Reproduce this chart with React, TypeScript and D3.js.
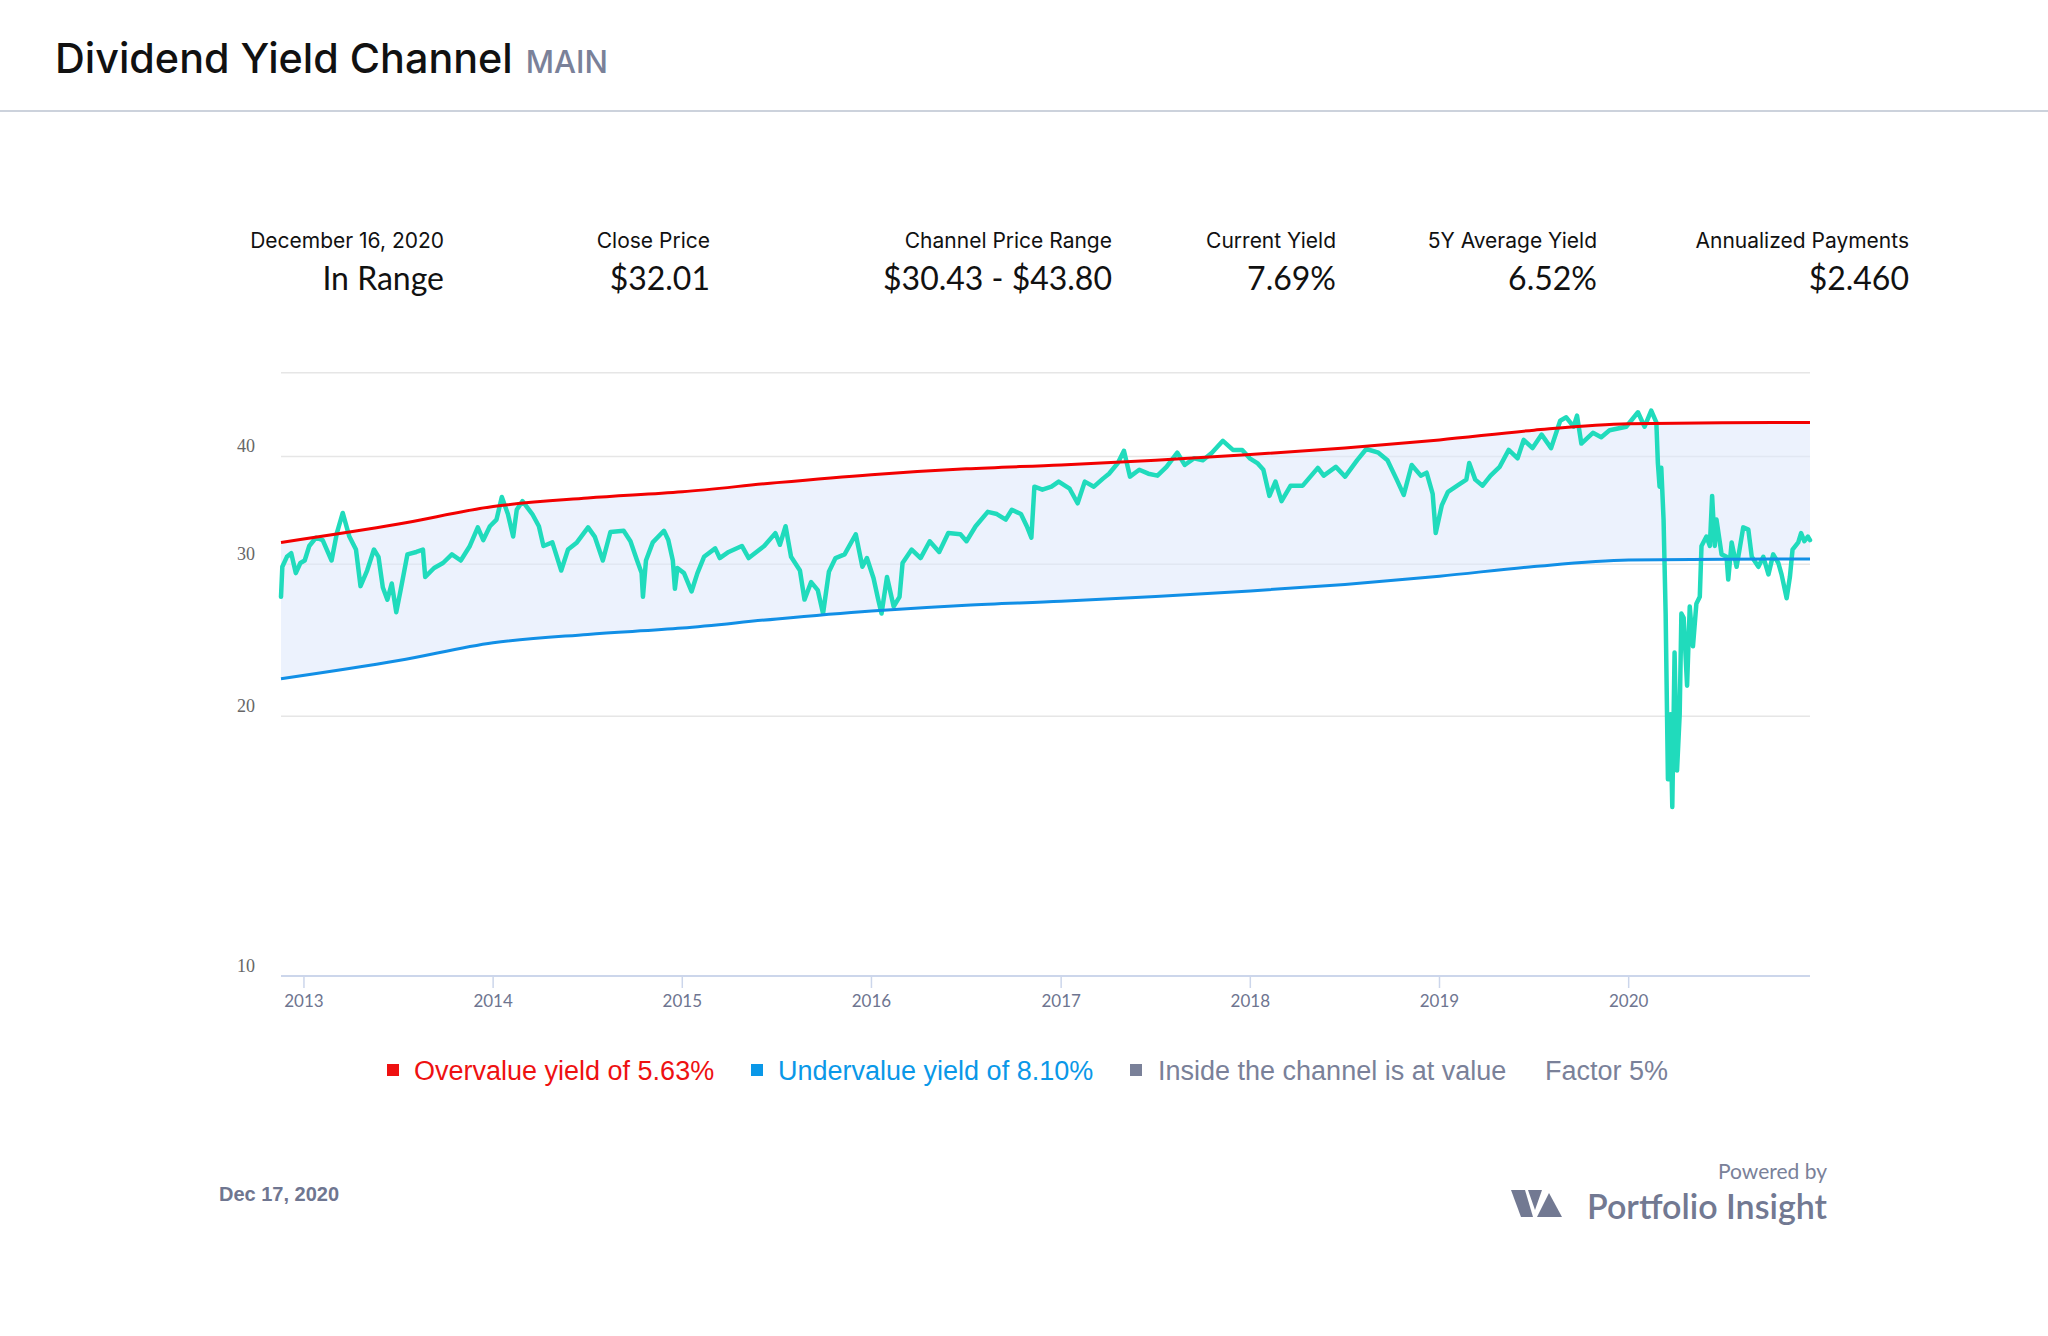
import React from "react";
import * as d3 from "d3";

// ---------- DATA ----------
const statLabels = ["December 16, 2020", "Close Price", "Channel Price Range", "Current Yield", "5Y Average Yield", "Annualized Payments"];
const statValues = ["In Range", "$32.01", "$30.43 - $43.80", "7.69%", "6.52%", "$2.460"];

const xTickYears = [2013, 2014, 2015, 2016, 2017, 2018, 2019, 2020];
const yTickValues = [10, 20, 30, 40, 50];
const yTickLabels = ["10", "20", "30", "40", ""];

const channelYears = [2012.879, 2013.5, 2014.0, 2014.5, 2015.0, 2015.5, 2016.0, 2016.5, 2017.0, 2017.5, 2018.0, 2018.5, 2019.0, 2019.5, 2020.0, 2020.5, 2020.956];
const overvalueLine = [31.8, 33.4, 35.0, 35.8, 36.4, 37.3, 38.1, 38.7, 39.1, 39.6, 40.2, 40.9, 41.8, 42.9, 43.65, 43.75, 43.8];
const undervalueLine = [22.1, 23.2, 24.33, 24.88, 25.3, 25.93, 26.48, 26.9, 27.18, 27.53, 27.94, 28.43, 29.06, 29.82, 30.34, 30.41, 30.43];

const priceYears = [
  2012.879, 2012.886, 2012.910, 2012.933, 2012.957, 2012.981, 2013.004, 2013.028, 2013.063, 2013.099,
  2013.146, 2013.174, 2013.205, 2013.240, 2013.275, 2013.299, 2013.334, 2013.370, 2013.394, 2013.417,
  2013.441, 2013.464, 2013.488, 2013.511, 2013.547, 2013.594, 2013.629, 2013.641, 2013.688, 2013.735,
  2013.782, 2013.829, 2013.877, 2013.919, 2013.948, 2013.983, 2014.018, 2014.046, 2014.078, 2014.106,
  2014.125, 2014.155, 2014.207, 2014.242, 2014.266, 2014.313, 2014.360, 2014.396, 2014.443, 2014.502,
  2014.537, 2014.580, 2014.620, 2014.690, 2014.726, 2014.761, 2014.785, 2014.792, 2014.808, 2014.844,
  2014.903, 2014.926, 2014.950, 2014.961, 2014.974, 2015.009, 2015.049, 2015.080, 2015.115, 2015.174,
  2015.198, 2015.245, 2015.315, 2015.351, 2015.433, 2015.492, 2015.516, 2015.546, 2015.575, 2015.622,
  2015.646, 2015.681, 2015.716, 2015.744, 2015.775, 2015.810, 2015.858, 2015.917, 2015.952, 2015.976,
  2016.011, 2016.034, 2016.053, 2016.082, 2016.117, 2016.148, 2016.164, 2016.212, 2016.259, 2016.307,
  2016.357, 2016.405, 2016.469, 2016.501, 2016.549, 2016.613, 2016.661, 2016.708, 2016.740, 2016.788,
  2016.819, 2016.843, 2016.859, 2016.901, 2016.949, 2016.987, 2017.045, 2017.087, 2017.125, 2017.173,
  2017.221, 2017.253, 2017.300, 2017.332, 2017.364, 2017.413, 2017.461, 2017.509, 2017.557, 2017.614,
  2017.653, 2017.702, 2017.749, 2017.797, 2017.855, 2017.908, 2017.957, 2017.997, 2018.037, 2018.069,
  2018.101, 2018.133, 2018.165, 2018.213, 2018.277, 2018.357, 2018.388, 2018.452, 2018.501, 2018.565,
  2018.613, 2018.677, 2018.725, 2018.774, 2018.811, 2018.853, 2018.901, 2018.932, 2018.964, 2018.980,
  2019.012, 2019.045, 2019.094, 2019.142, 2019.157, 2019.189, 2019.228, 2019.270, 2019.318, 2019.366,
  2019.413, 2019.445, 2019.492, 2019.540, 2019.590, 2019.638, 2019.670, 2019.709, 2019.727, 2019.750,
  2019.811, 2019.855, 2019.899, 2019.987, 2020.049, 2020.084, 2020.119, 2020.146, 2020.154, 2020.163,
  2020.172, 2020.184, 2020.195, 2020.207, 2020.220, 2020.230, 2020.242, 2020.255, 2020.269, 2020.278,
  2020.290, 2020.308, 2020.322, 2020.339, 2020.357, 2020.375, 2020.384, 2020.410, 2020.428, 2020.440,
  2020.454, 2020.463, 2020.490, 2020.516, 2020.525, 2020.543, 2020.569, 2020.604, 2020.631, 2020.649,
  2020.684, 2020.710, 2020.737, 2020.762, 2020.789, 2020.806, 2020.833, 2020.850, 2020.864, 2020.894,
  2020.909, 2020.926, 2020.945, 2020.956,
];
const priceValues = [
  27.5, 29.8, 30.6, 30.9, 29.3, 30.1, 30.3, 31.5, 32.2, 32.0,
  30.3, 32.6, 34.4, 32.3, 31.2, 28.3, 29.5, 31.2, 30.6, 28.2,
  27.3, 28.5, 26.4, 28.0, 30.8, 31.0, 31.2, 29.0, 29.7, 30.1,
  30.8, 30.3, 31.5, 33.1, 32.0, 33.2, 33.8, 35.9, 34.3, 32.3,
  34.7, 35.5, 34.3, 33.2, 31.5, 31.8, 29.5, 31.2, 31.8, 33.1,
  32.3, 30.3, 32.7, 32.8, 31.9, 30.3, 29.3, 27.5, 30.3, 31.8,
  32.8, 32.0, 30.3, 28.1, 29.7, 29.3, 27.9, 29.3, 30.6, 31.3,
  30.5, 31.0, 31.5, 30.5, 31.5, 32.6, 31.6, 33.2, 30.6, 29.5,
  27.3, 28.6, 28.0, 26.3, 29.4, 30.5, 30.8, 32.5, 29.8, 30.5,
  28.9, 27.4, 26.3, 29.0, 26.8, 27.5, 30.1, 31.2, 30.5, 31.9,
  31.0, 32.6, 32.5, 31.9, 33.2, 34.5, 34.3, 33.8, 34.7, 34.3,
  33.2, 32.2, 36.9, 36.6, 36.9, 37.4, 36.7, 35.3, 37.4, 36.9,
  37.7, 38.2, 39.3, 40.6, 37.9, 38.6, 38.2, 38.0, 38.9, 40.4,
  39.1, 39.8, 39.6, 40.4, 41.7, 40.7, 40.7, 39.8, 39.3, 38.6,
  36.0, 37.4, 35.5, 37.0, 37.0, 38.8, 38.0, 38.9, 37.9, 39.6,
  40.8, 40.4, 39.6, 37.6, 36.1, 39.1, 38.0, 38.3, 36.2, 32.6,
  35.1, 36.4, 37.0, 37.6, 39.3, 37.6, 37.0, 38.0, 38.9, 40.7,
  39.8, 41.8, 40.9, 42.4, 40.9, 44.0, 44.4, 43.3, 44.6, 41.4,
  42.6, 42.1, 42.9, 43.3, 45.0, 43.3, 45.2, 43.8, 39.3, 36.9,
  38.8, 33.8, 26.3, 16.9, 20.1, 15.7, 23.7, 17.3, 20.1, 26.3,
  26.0, 21.7, 26.8, 24.1, 27.0, 27.5, 31.5, 32.3, 31.5, 36.0,
  31.5, 33.8, 30.8, 30.6, 28.8, 31.8, 29.8, 33.1, 32.9, 30.6,
  29.8, 30.6, 29.2, 30.8, 30.1, 29.2, 27.4, 29.0, 31.2, 31.8,
  32.6, 31.9, 32.3, 32.0,
];

const legendLabels = ["Overvalue yield of 5.63%", "Undervalue yield of 8.10%", "Inside the channel is at value", "Factor 5%"];
const legendColors = ["#ee1111", "#0a98e8", "#7a8199", "#7a8199"];

// ---------- HELPERS ----------
const yearToDate = (y: number) => {
  const yr = Math.floor(y);
  const s = Date.UTC(yr, 0, 1);
  const e = Date.UTC(yr + 1, 0, 1);
  return new Date(s + (y - yr) * (e - s));
};

const W = 2048;
const H = 1336;
const plotLeft = 281;
const plotRight = 1810;
const plotTop = 372.8;
const plotBottom = 976;

const SANS = "Lato, 'Open Sans', sans-serif";
const INTER = "Inter, Lato, sans-serif";
const ARIAL = "'Liberation Sans', Arial, Helvetica, sans-serif";

export default function App() {
  const x = d3.scaleUtc().domain([yearToDate(2012.879), yearToDate(2020.956)]).range([plotLeft, plotRight]);
  const y = d3.scaleLog().domain([10, 50]).range([plotBottom, plotTop]);

  const price = priceYears.map((t, i) => ({ d: yearToDate(t), v: priceValues[i] }));
  const channel = channelYears.map((t, i) => ({ d: yearToDate(t), hi: overvalueLine[i], lo: undervalueLine[i] }));

  const priceLine = d3.line<{ d: Date; v: number }>().x((p) => x(p.d)).y((p) => y(p.v)).curve(d3.curveLinear);
  const hiLine = d3.line<any>().x((p) => x(p.d)).y((p) => y(p.hi)).curve(d3.curveMonotoneX);
  const loLine = d3.line<any>().x((p) => x(p.d)).y((p) => y(p.lo)).curve(d3.curveMonotoneX);
  const band = d3.area<any>().x((p) => x(p.d)).y0((p) => y(p.lo)).y1((p) => y(p.hi)).curve(d3.curveMonotoneX);

  const statRight = [444, 710, 1112, 1336, 1597, 1909];
  const legendSquareX = [387, 751, 1130, -1];
  const legendTextX = [414, 778, 1158, 1545];

  return (
    <svg width={W} height={H} style={{ position: "absolute", left: 0, top: 0, background: "#fff" }} xmlns="http://www.w3.org/2000/svg">
      <rect x={0} y={0} width={W} height={H} fill="#fff" />
      {/* Title */}
      <text x={55} y={72.5} fontFamily={INTER} fontSize={41.3} fontWeight={500} fill="#111">
        Dividend Yield Channel
        <tspan dx={13} fontSize={31} fill="#7a8199" fontWeight={500}>MAIN</tspan>
      </text>
      <line x1={0} x2={W} y1={111} y2={111} stroke="#ccd2dc" strokeWidth={2} />

      {/* Stats */}
      {statLabels.map((s, i) => (
        <g key={s}>
          <text x={statRight[i]} y={247.5} textAnchor="end" fontFamily={INTER} fontSize={21} fill="#111">{s}</text>
          <text x={statRight[i]} y={289.5} textAnchor="end" fontFamily={SANS} fontSize={32} fill="#111">{statValues[i]}</text>
        </g>
      ))}

      {/* Grid */}
      {yTickValues.map((v, i) => (
        <g key={v}>
          {v !== 10 && <line x1={plotLeft} x2={plotRight} y1={y(v)} y2={y(v)} stroke="#e6e6e6" strokeWidth={1.5} />}
          <text x={255} y={y(v) - 4} textAnchor="end" fontFamily="'Liberation Serif', 'Times New Roman', serif" fontSize={18} fill="#666">{yTickLabels[i]}</text>
        </g>
      ))}

      {/* Channel band */}
      <path d={band(channel) || ""} fill="#dce7fb" fillOpacity={0.55} />

      {/* Price */}
      <path d={priceLine(price) || ""} fill="none" stroke="#20dbbc" strokeWidth={4.5} strokeLinejoin="round" strokeLinecap="round" />

      {/* Channel lines */}
      <path d={hiLine(channel) || ""} fill="none" stroke="#f20000" strokeWidth={3} />
      <path d={loLine(channel) || ""} fill="none" stroke="#118fe6" strokeWidth={3} />

      {/* X axis */}
      <line x1={plotLeft} x2={plotRight} y1={plotBottom} y2={plotBottom} stroke="#ccd6eb" strokeWidth={2} />
      {xTickYears.map((yr) => {
        const px = x(yearToDate(yr));
        return (
          <g key={yr}>
            <line x1={px} x2={px} y1={plotBottom} y2={plotBottom + 12} stroke="#ccd6eb" strokeWidth={1.5} />
            <text x={px} y={1007} textAnchor="middle" fontFamily={SANS} fontSize={17} fill="#6e7590">{yr}</text>
          </g>
        );
      })}

      {/* Legend */}
      {legendLabels.map((l, i) => (
        <g key={l}>
          {legendSquareX[i] >= 0 && <rect x={legendSquareX[i]} y={1064} width={12} height={12} fill={legendColors[i]} />}
          <text x={legendTextX[i]} y={1080} fontFamily={ARIAL} fontSize={27} fill={legendColors[i]}>{l}</text>
        </g>
      ))}

      {/* Footer */}
      <text x={219} y={1201} fontFamily={ARIAL} fontSize={20} fontWeight="bold" fill="#6f7690">Dec 17, 2020</text>
      <text x={1827} y={1179} textAnchor="end" fontFamily={SANS} fontSize={21} fill="#7a8199">Powered by</text>
      <text x={1827} y={1219} textAnchor="end" fontFamily={SANS} fontSize={34} fontWeight={600} fill="#727992">Portfolio Insight</text>
      <g transform="translate(1511,1190)" fill="#727992">
        <polygon points="0,0 14,0 22,27 10,27" />
        <polygon points="17,0 31,0 24,20" />
        <polygon points="26,27 38,3 51,27" />
      </g>
    </svg>
  );
}
